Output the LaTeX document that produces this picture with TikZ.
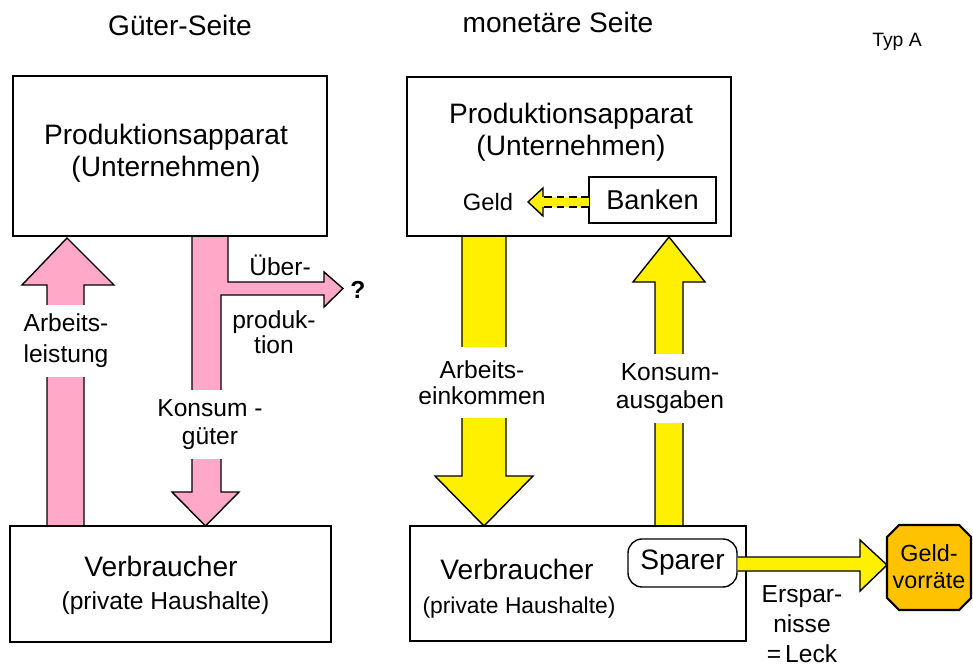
\documentclass[tikz,border=0pt]{standalone}
\usepackage{fontspec}
\setmainfont{Liberation Sans}
\usetikzlibrary{positioning}
\definecolor{warenrosa}{RGB}{255,168,200}
\definecolor{geldgelb}{RGB}{255,240,0}
\definecolor{vorratgelb}{RGB}{255,194,0}
\tikzset{
  kasten/.style={line width=0.8pt},
  rosapfeil/.style={draw, line width=0.8pt, fill=warenrosa},
  gelbpfeil/.style={draw, line width=0.8pt, fill=geldgelb},
  pfeiltext/.style={fill=white, align=center, inner xsep=1pt, inner ysep=0pt, font=\fontsize{14}{15.5}\selectfont},
  titel/.style={font=\fontsize{16}{19}\selectfont},
  gross/.style={font=\fontsize{16}{18.5}\selectfont, align=center},
  klein/.style={font=\fontsize{14}{17}\selectfont, align=center},
}

\begin{document}
\begin{tikzpicture}[x=0.02cm, y=-0.02cm]
    \useasboundingbox (0,0) rectangle (973,668);

    % Ueberschriften
    \node[titel] (gueter) at (180,25) {Güter-Seite};
    \node[titel] (monetaer) at (558,22) {monetäre Seite};
    \node[font=\fontsize{11}{13}\selectfont] (typ) at (897,42) {Typ A};

    % Gueter-Seite: Pfeile
    \draw[rosapfeil] (47,526) -- (47,285) -- (22,285) -- (67,238) -- (114,285) -- (84,285) -- (84,526); % Arbeitsleistung (nach oben)
    \draw[rosapfeil] (192,236) -- (192,492) -- (172,492) -- (205.5,526) -- (239,492) -- (221,492) -- (221,295)
        -- (324,295) -- (324,307) -- (343,288.5) -- (324,272) -- (324,282) -- (228,282) -- (228,236); % Konsumgueter mit Abzweig

    % Gueter-Seite: Kaesten
    \draw[kasten] (13,76) rectangle (327,236); % Produktionsapparat
    \draw[kasten] (10,526) rectangle (331,642); % Verbraucher

    \node[gross] (prodL) at (166,153) {Produktionsapparat\\(Unternehmen)};
    \node[gross] (verbL) at (161,566) {Verbraucher};
    \node[klein] (haushL) at (165.5,603) {(private Haushalte)};

    % Beschriftung der Pfeile
    \node[pfeiltext, font=\fontsize{14}{17.5}\selectfont, minimum height=1.44cm] (leistung) at (66,341) {Arbeits-\\leistung};
    \node[pfeiltext, minimum height=1.38cm] (konsumg) at (210,424.5) {Konsum -\\güter};
    \node[klein] (ueber) at (280,265) {Über-};
    \node[klein, font=\fontsize{14}{14.5}\selectfont] (produk) at (274,332) {produk-\\tion};
    \node[font=\bfseries\fontsize{14}{16}\selectfont] (frage) at (358,290) {?};

    % monetaere Seite: Pfeile
    \draw[gelbpfeil] (462,236) -- (462,476) -- (435,476) -- (484,526) -- (533,476) -- (506,476) -- (506,236); % Arbeitseinkommen
    \draw[gelbpfeil] (655,526) -- (655,282) -- (633,282) -- (669,237) -- (705,282) -- (683,282) -- (683,526); % Konsumausgaben

    % monetaere Seite: Kaesten
    \draw[kasten] (407,77) rectangle (731,236); % Produktionsapparat
    \draw[kasten] (410,526) rectangle (746,641); % Verbraucher

    \node[gross] (prodR) at (571,132) {Produktionsapparat\\(Unternehmen)};
    \node[draw, kasten, minimum width=2.54cm, minimum height=0.92cm, font=\fontsize{15.5}{18}\selectfont] (banken) at (652.5,200) {Banken};
    \node[font=\fontsize{13.5}{16}\selectfont] (geld) at (488,202) {Geld};

    % Geld aus den Banken (gestrichelt)
    \fill[geldgelb] (543,197) rectangle (589,207);
    \draw[kasten, dash pattern=on 4.5pt off 2.5pt] (589,197) -- (543,197);
    \draw[kasten, dash pattern=on 4.5pt off 2.5pt] (589,207) -- (543,207);
    \draw[gelbpfeil] (543,197) -- (543,188) -- (528,202) -- (543,216) -- (543,207);

    \node[gross] (verbR) at (517,569) {Verbraucher};
    \node[font=\fontsize{13}{16}\selectfont] (haushR) at (519,608) {(private Haushalte)};
    \node[draw, kasten, rounded corners=8pt, minimum width=2.18cm, minimum height=0.96cm, font=\fontsize{16}{18}\selectfont] (sparer) at (682.5,563) {Sparer};

    \node[pfeiltext, font=\fontsize{14}{14.7}\selectfont, minimum height=1.42cm] (einkommen) at (482,382.5) {Arbeits-\\einkommen};
    \node[pfeiltext, font=\fontsize{14}{16.4}\selectfont, minimum height=1.38cm] (ausgaben) at (670,388.5) {Konsum-\\ausgaben};

    % Ersparnisse = Leck
    \draw[gelbpfeil] (sparer.east |- 0,557) -- (860,557) -- (860,540) -- (887,565) -- (860,591) -- (860,571) -- (sparer.east |- 0,571);
    \node[klein] (leck) at (802,624) {Erspar-\\nisse\\=\,Leck};

    % Geldvorraete
    \draw[line width=1.2pt, fill=vorratgelb] (887,537) -- (899,525) -- (959,525) -- (971,537) -- (971,598) -- (959,610) -- (899,610) -- (887,598) -- cycle;
    \node[font=\fontsize{13.3}{15.3}\selectfont, align=center] (vorrat) at (929,567) {Geld-\\vorräte};

\end{tikzpicture}
\end{document}
